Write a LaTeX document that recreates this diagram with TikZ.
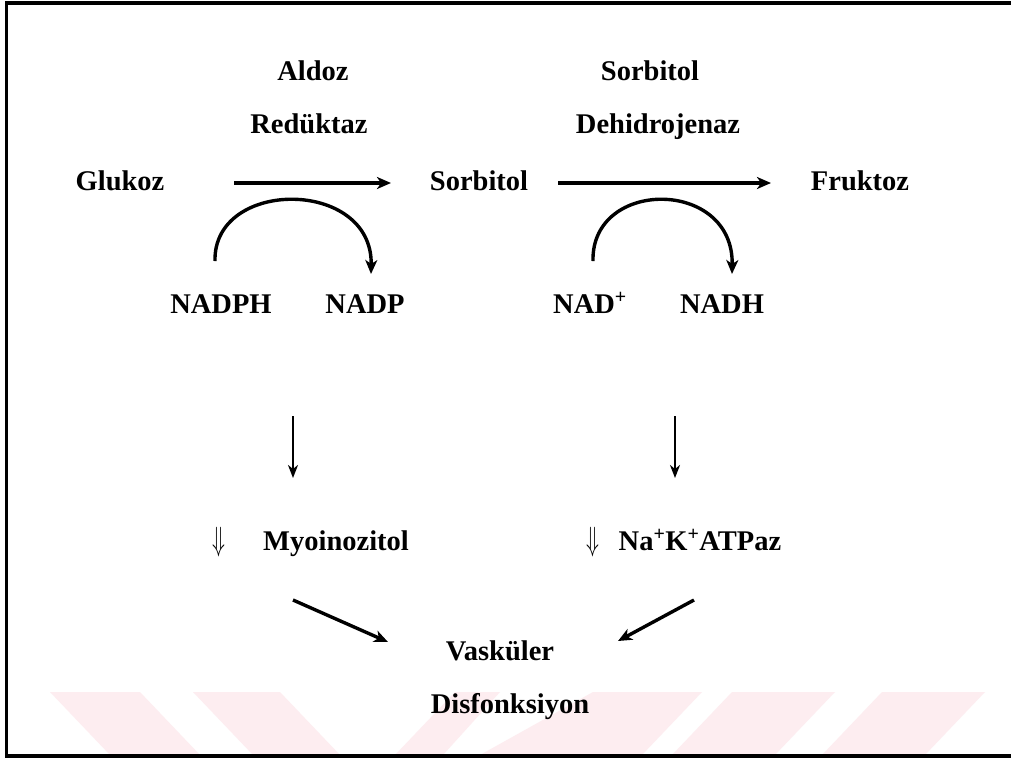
\documentclass[tikz,border=0pt]{standalone}
\usepackage{fontspec}
\usepackage{graphicx}
\setmainfont{Liberation Serif}
\usetikzlibrary{arrows.meta}
\definecolor{wm}{RGB}{253,237,240}
\tikzset{
  lbl/.style={font=\fontsize{28.5}{30}\selectfont\bfseries, inner sep=0pt, anchor=base},
  arr/.style={line width=3.4pt, -{Stealth[length=14pt,width=12pt,inset=4pt]}},
  thinarr/.style={line width=2.2pt, -{Stealth[length=13pt,width=10pt,inset=4pt]}},
  stripe/.style={fill=wm, draw=none}
}
\begin{document}
\begin{tikzpicture}[x=1pt,y=-1pt]
\useasboundingbox (0,0) rectangle (1011,760);
\clip (0,0) rectangle (1011,760);
\fill[white] (0,0) rectangle (1011,760);
% watermark stripes
\fill[stripe] (50,692) -- (140,692) -- (200,755) -- (110,755) -- cycle;
\fill[stripe] (193,692) -- (280,692) -- (340,755) -- (253,755) -- cycle;
\fill[stripe] (395,755) -- (443,755) -- (500,692) -- (455,692) -- cycle;
\fill[stripe] (593,692) -- (702,692) -- (642,755) -- (480,755) -- cycle;
\fill[stripe] (732,692) -- (835,692) -- (775,755) -- (672,755) -- cycle;
\fill[stripe] (882,692) -- (985,692) -- (925,755) -- (822,755) -- cycle;
% frame
\draw[line width=3.5pt] (6.5,3) rectangle (1020,756);
% labels
\node[lbl] (aldoz) at (313,80) {Aldoz};
\node[lbl] (reduktaz) at (309,133) {Redüktaz};
\node[lbl] (sorbtop) at (650,80) {Sorbitol};
\node[lbl] (dehid) at (658,133) {Dehidrojenaz};
\node[lbl] (glukoz) at (120,190) {Glukoz};
\node[lbl] (sorbitol) at (479,190) {Sorbitol};
\node[lbl] (fruktoz) at (860,190) {Fruktoz};
\node[lbl] (nadph) at (221,313) {NADPH};
\node[lbl] (nadp) at (365,313) {NADP};
\node[lbl] (nadplus) at (590,313) {NAD\textsuperscript{+}};
\node[lbl] (nadh) at (722,313) {NADH};
\node[lbl] (dn1) at (219,550) {\scalebox{0.85}[1.35]{$\Downarrow$}};
\node[lbl] (myo) at (336,550) {Myoinozitol};
\node[lbl] (dn2) at (593,550) {\scalebox{0.85}[1.35]{$\Downarrow$}};
\node[lbl] (atpaz) at (700,550) {Na\textsuperscript{+}K\textsuperscript{+}ATPaz};
\node[lbl] (vask) at (500,660) {Vasküler};
\node[lbl] (disf) at (510,713) {Disfonksiyon};
% connector end points
\coordinate (h1s) at (234,183); \coordinate (h1e) at (391,183);
\coordinate (h2s) at (558,183); \coordinate (h2e) at (771,183);
\coordinate (c1s) at (215,261); \coordinate (c1e) at (371,274);
\coordinate (c2s) at (593,261); \coordinate (c2e) at (732,274);
\coordinate (v1s) at (293,416); \coordinate (v1e) at (293,478);
\coordinate (v2s) at (675,416); \coordinate (v2e) at (675,478);
\coordinate (d1s) at (293,600); \coordinate (d1e) at (388,642);
\coordinate (d2s) at (694,600); \coordinate (d2e) at (618,641);
% arrows
\draw[arr] (h1s) -- (h1e);
\draw[arr] (h2s) -- (h2e);
\draw[arr] (c1s) .. controls (213,178) and (373,178) .. (c1e);
\draw[arr] (c2s) .. controls (591,178) and (734,178) .. (c2e);
\draw[thinarr] (v1s) -- (v1e);
\draw[thinarr] (v2s) -- (v2e);
\draw[arr] (d1s) -- (d1e);
\draw[arr] (d2s) -- (d2e);
\end{tikzpicture}
\end{document}
